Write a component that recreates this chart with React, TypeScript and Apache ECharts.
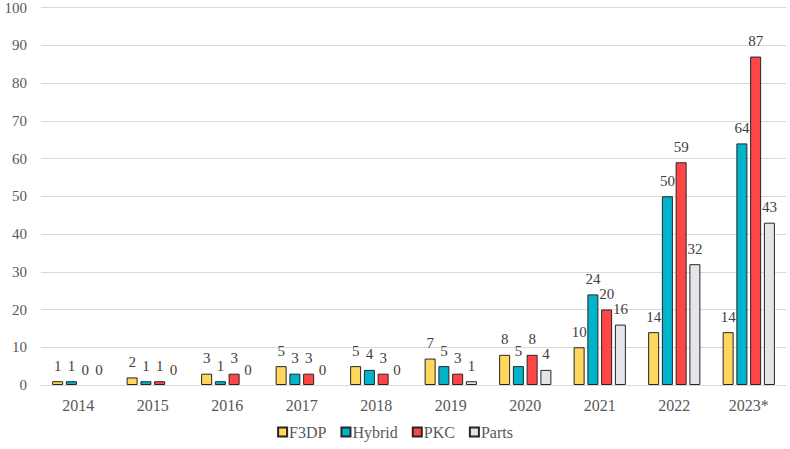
import React, { useEffect, useRef } from "react";
import * as echarts from "echarts";

const categories = ["2014", "2015", "2016", "2017", "2018", "2019", "2020", "2021", "2022", "2023*"];
const f3dp = [1, 2, 3, 5, 5, 7, 8, 10, 14, 14];
const hybrid = [1, 1, 1, 3, 4, 5, 5, 24, 50, 64];
const pkc = [0, 1, 3, 3, 3, 3, 8, 20, 59, 87];
const parts = [0, 0, 0, 0, 0, 1, 4, 16, 32, 43];

const seriesNames = ["F3DP", "Hybrid", "PKC", "Parts"];
const seriesData = [f3dp, hybrid, pkc, parts];
const colors = ["#FFD75C", "#00B4CB", "#FF4545", "#E4E4EA"];

const FONT = "Liberation Serif";

export default function App() {
  const ref = useRef<HTMLDivElement>(null);
  useEffect(() => {
    document.body.style.margin = "0";
    if (!ref.current) return;
    const chart = echarts.init(ref.current, null, { renderer: "svg" });
    chart.setOption({
      animation: false,
      textStyle: { fontFamily: FONT },
      grid: { left: 41, right: 4, top: 7, bottom: 64, containLabel: false },
      legend: {
        bottom: 4,
        left: "center",
        itemWidth: 9,
        itemHeight: 9,
        itemGap: 14,
        textStyle: { fontFamily: FONT, fontSize: 16, color: "#595959", padding: [0, 0, 0, -3] },
        data: seriesNames.map((n) => ({ name: n, icon: "rect" })),
      },
      xAxis: {
        type: "category",
        data: categories,
        axisLine: { lineStyle: { color: "#d9d9d9", width: 1 } },
        axisTick: { show: false },
        axisLabel: { fontFamily: FONT, fontSize: 16, color: "#595959", margin: 12 },
      },
      yAxis: {
        type: "value",
        min: 0,
        max: 100,
        interval: 10,
        axisLine: { show: false },
        axisTick: { show: false },
        splitLine: { lineStyle: { color: "#d9d9d9", width: 1 } },
        axisLabel: { fontFamily: FONT, fontSize: 15, color: "#595959", margin: 14 },
      },
      series: seriesNames.map((name, i) => ({
        name,
        type: "bar",
        data: seriesData[i].map((v) =>
          v === 0 ? { value: v, itemStyle: { borderWidth: 0 } } : v
        ),
        barWidth: 11,
        barGap: "25%",
        itemStyle: { color: colors[i], borderColor: "#262626", borderWidth: 1 },
        label: {
          show: true,
          position: "top",
          distance: 8,
          fontFamily: FONT,
          fontSize: 15,
          color: "#404040",
        },
      })),
    });
    return () => chart.dispose();
  }, []);
  return <div ref={ref} style={{ width: 790, height: 449 }} />;
}
